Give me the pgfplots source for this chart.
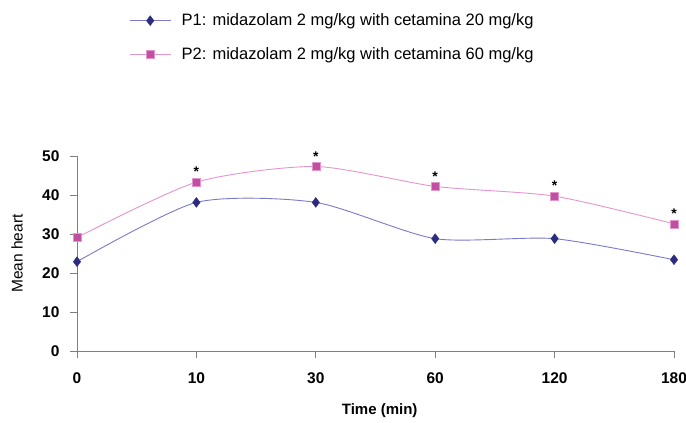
\documentclass[border=0pt]{standalone}
\usepackage{pgfplots}
\pgfplotsset{compat=1.18}
\usepackage{fontspec}
\setmainfont{Liberation Sans}
\definecolor{pOneLine}{HTML}{7A7AC6}
\definecolor{pOneMark}{HTML}{2B2B80}
\definecolor{pTwoLine}{HTML}{E495CE}
\definecolor{pTwoMark}{HTML}{C04FA1}
\definecolor{axgray}{HTML}{7F7F7F}
\begin{document}
\begin{tikzpicture}
\begin{axis}[
  name=ax,
  scale only axis,
  width=597pt, height=195pt,
  xmin=0, xmax=5,
  ymin=0, ymax=50,
  clip=false,
  axis x line=bottom, axis y line=left,
  axis line style={axgray, line width=0.9pt, -},
  xtick={0,1,2,3,4,5},
  xticklabels={0,10,30,60,120,180},
  ytick={0,10,20,30,40,50},
  tick style={axgray, line width=0.9pt},
  tick align=outside,
  major tick length=7pt,
  tick label style={font=\bfseries\fontsize{15.5}{17}\selectfont, black},
  /pgf/number format/assume math mode=true,
  xticklabel style={yshift=-11pt},
  yticklabel style={xshift=-7pt},
  xlabel={\bfseries Time (min)},
  xlabel style={font=\fontsize{15}{17}\selectfont, at={(axis description cs:0.507,-0.308)}, anchor=center},
  ylabel={Mean heart},
  ylabel style={font=\fontsize{15.5}{17}\selectfont, at={(axis description cs:-0.1005,0.5)}, anchor=center},
  legend style={
    at={(axis description cs:0.083,1.75)}, anchor=north west,
    draw=none, fill=none,
    font=\fontsize{16.5}{18}\selectfont,
    row sep=16pt,
  },
  legend cell align=left,
  legend image code/.code={
    \draw[#1, mark repeat=2, mark phase=2] plot coordinates {(0pt,0pt) (20pt,0pt) (40pt,0pt)};
    \path (49pt,0pt);
  },
]
\addplot[pOneLine, line width=0.9pt, smooth, tension=0.42,
  mark=diamond*, mark size=5pt,
  mark options={draw=pOneMark, fill=pOneMark, line width=0.3pt}]
  coordinates {(0,22.9) (1,38.1) (2,38.1) (3,28.8) (4,28.8) (5,23.4)};
\addlegendentry{P1: midazolam 2 mg/kg with cetamina 20 mg/kg}
\addplot[pTwoLine, line width=0.9pt, smooth, tension=0.42,
  mark=square*, mark size=4pt,
  mark options={draw=pTwoLine, fill=pTwoMark, line width=0.5pt}]
  coordinates {(0,29.1) (1,43.3) (2,47.3) (3,42.2) (4,39.7) (5,32.6)};
\addlegendentry{P2: midazolam 2 mg/kg with cetamina 60 mg/kg}
\addplot[draw=none, forget plot,
  nodes near coords={\textbf{*}},
  every node near coord/.style={anchor=center, yshift=10pt, font=\bfseries\fontsize{14}{14}\selectfont, black}]
  coordinates {(1,43.3) (2,47.3) (3,42.2) (4,39.7) (5,32.6)};
\end{axis}
\pgfresetboundingbox
\path (ax.south west) ++(-77pt,-72pt) rectangle ++(686pt,423pt);
\end{tikzpicture}
\end{document}
